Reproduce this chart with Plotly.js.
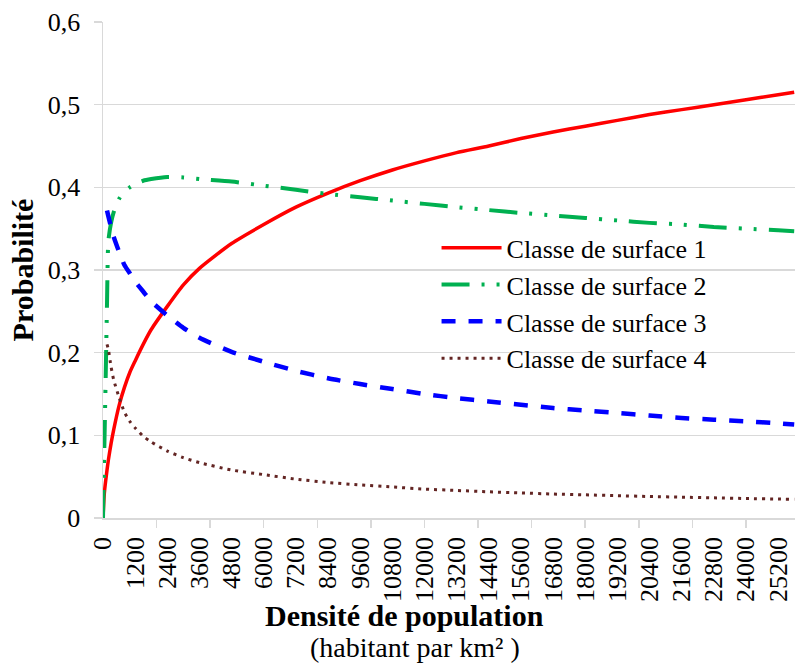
<!DOCTYPE html>
<html>
<head>
<meta charset="utf-8">
<script src="https://cdn.plot.ly/plotly-3.0.1.min.js"></script>
<style>html,body{margin:0;padding:0;background:#fff}#chart{width:795px;height:664px}</style>
</head>
<body>
<div id="chart"></div>
<script>
// Population density (inhabitants per km²)
var density = [0, 50, 100, 150, 200, 300, 400, 600, 800, 1000, 1200, 1500, 1800, 2400, 3000, 3600, 4800, 6000, 7200, 8400, 9600, 10800, 12000, 13200, 14400, 15600, 16800, 18000, 19200, 20400, 21600, 22800, 24000, 25200, 25800];
var classe1 = [0.0, 0.03, 0.045, 0.058, 0.07, 0.09, 0.107, 0.136, 0.158, 0.176, 0.19, 0.21, 0.228, 0.256, 0.282, 0.302, 0.332, 0.355, 0.376, 0.393, 0.408, 0.421, 0.432, 0.442, 0.45, 0.459, 0.467, 0.474, 0.481, 0.488, 0.494, 0.5, 0.506, 0.512, 0.515];
var classe2 = [0.0, 0.085, 0.17, 0.26, 0.335, 0.357, 0.37, 0.386, 0.395, 0.4, 0.404, 0.408, 0.41, 0.4125, 0.412, 0.41, 0.407, 0.402, 0.397, 0.392, 0.388, 0.384, 0.38, 0.376, 0.3725, 0.369, 0.366, 0.363, 0.36, 0.357, 0.355, 0.352, 0.35, 0.348, 0.347];
var classe3 = [null, null, null, 0.372, 0.365, 0.352, 0.34, 0.322, 0.306, 0.296, 0.286, 0.274, 0.262, 0.245, 0.23, 0.218, 0.201, 0.189, 0.178, 0.169, 0.162, 0.156, 0.15, 0.145, 0.141, 0.137, 0.133, 0.13, 0.127, 0.124, 0.121, 0.119, 0.117, 0.1145, 0.113];
var classe4 = [null, null, null, 0.21, 0.204, 0.183, 0.167, 0.146, 0.128, 0.117, 0.109, 0.099, 0.092, 0.081, 0.073, 0.067, 0.058, 0.0525, 0.047, 0.043, 0.04, 0.0375, 0.035, 0.0333, 0.0317, 0.0303, 0.029, 0.028, 0.027, 0.026, 0.0252, 0.0244, 0.0236, 0.0229, 0.0226];
var seriesNames = ["Classe de surface 1", "Classe de surface 2", "Classe de surface 3", "Classe de surface 4"];
var xLabelVals = [0, 1200, 2400, 3600, 4800, 6000, 7200, 8400, 9600, 10800, 12000, 13200, 14400, 15600, 16800, 18000, 19200, 20400, 21600, 22800, 24000, 25200];
var xTickMarkStep = 2000;
var yTickVals = [0, 0.1, 0.2, 0.3, 0.4, 0.5, 0.6];
var yTickText = ["0", "0,1", "0,2", "0,3", "0,4", "0,5", "0,6"];
var xTitleLine1 = "<b>Densité de population</b>";
var xTitleLine2 = "(habitant par km² )";
var yTitle = "<b>Probabilité</b>";

var FONT = "\"Liberation Serif\", \"Times New Roman\", Times, serif";
var traces = [
  {x: density, y: classe1, name: seriesNames[0], mode: "lines", line: {color: "#ff0000", width: 3.5, shape: "spline", smoothing: 0.6}},
  {x: density, y: classe2, name: seriesNames[1], mode: "lines", line: {color: "#00b050", width: 4, dash: "28px,12px,3px,12px,3px,12px", shape: "spline", smoothing: 0.6}},
  {x: density, y: classe3, name: seriesNames[2], mode: "lines", line: {color: "#0000ff", width: 4.5, dash: "14px,13px", shape: "spline", smoothing: 0.6}},
  {x: density, y: classe4, name: seriesNames[3], mode: "lines", line: {color: "#632523", width: 3, dash: "3px,5px", shape: "spline", smoothing: 0.6}}
];
var layout = {
  width: 795, height: 664,
  margin: {l: 103, r: 0, t: 22, b: 146},
  paper_bgcolor: "#fff", plot_bgcolor: "#fff",
  font: {family: FONT, size: 26, color: "#000"},
  showlegend: true,
  legend: {x: 0.482, y: 0.592, xanchor: "left", yanchor: "top", bgcolor: "rgba(0,0,0,0)", font: {family: FONT, size: 26, color: "#000"}, tracegroupgap: 0, itemwidth: 60},
  xaxis: {
    range: [0, 25830], showgrid: false, zeroline: false,
    showline: true, linecolor: "#d9d9d9", linewidth: 1.5,
    tickmode: "array", tickvals: xLabelVals, ticktext: xLabelVals.map(String),
    ticks: "inside", ticklen: 0, tickcolor: "rgba(0,0,0,0)",
    minor: {tickmode: "linear", tick0: 0, dtick: xTickMarkStep, ticks: "outside", ticklen: 8, tickcolor: "#d9d9d9", tickwidth: 1.5, showgrid: false},
    tickangle: -90, tickfont: {family: FONT, size: 26, color: "#000"}, ticklabelstandoff: 7
  },
  yaxis: {
    range: [0, 0.6], showgrid: true, gridcolor: "#d9d9d9", gridwidth: 1.5, zeroline: false,
    showline: true, linecolor: "#d9d9d9", linewidth: 1.5,
    tickmode: "array", tickvals: yTickVals, ticktext: yTickText, ticks: "outside", ticklen: 8, tickcolor: "#d9d9d9", tickwidth: 1.5,
    tickfont: {family: FONT, size: 26, color: "#000"}, ticklabelstandoff: 8,
    title: {text: yTitle, font: {family: FONT, size: 30, color: "#000"}, standoff: 5}
  },
  annotations: [
    {text: xTitleLine1, xref: "paper", yref: "paper", x: 0.435, y: -0.1956, xanchor: "center", yanchor: "middle", showarrow: false, font: {family: FONT, size: 30, color: "#000"}},
    {text: xTitleLine2, xref: "paper", yref: "paper", x: 0.451, y: -0.2613, xanchor: "center", yanchor: "middle", showarrow: false, font: {family: FONT, size: 28, color: "#000"}}
  ]
};
Plotly.newPlot("chart", traces, layout, {displayModeBar: false, staticPlot: true});
</script>
</body>
</html>
